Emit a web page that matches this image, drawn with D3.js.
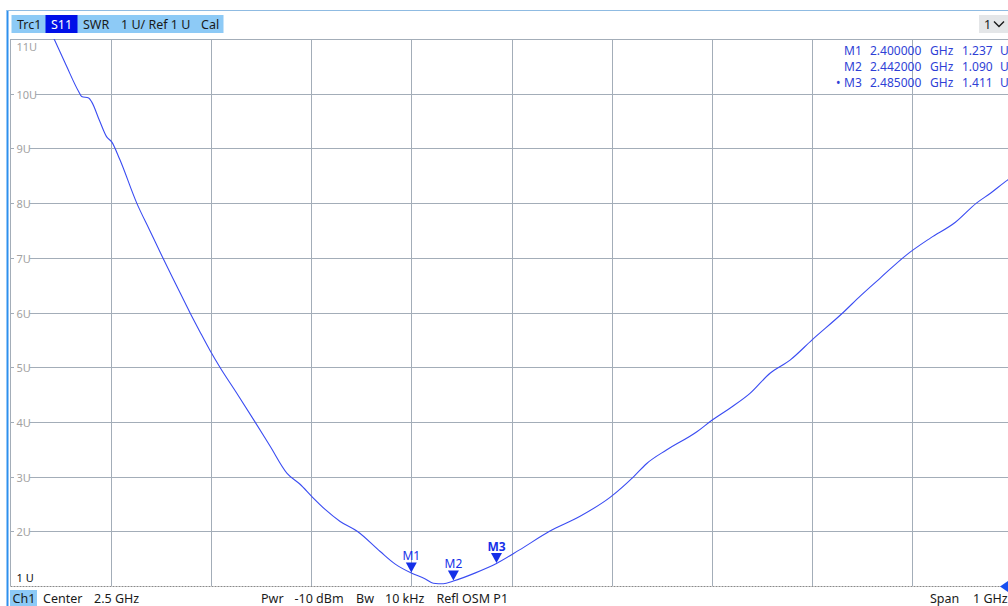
<!DOCTYPE html>
<html>
<head>
<meta charset="utf-8">
<script src="https://cdn.jsdelivr.net/npm/d3@7"></script>
<style>
  html, body { margin: 0; padding: 0; background: #ffffff; }
  svg { display: block; font-family: "Noto Sans", "Open Sans", sans-serif; }
</style>
</head>
<body>
<svg id="chart" width="1008" height="606"></svg>
<script>
// S11 SWR trace, 2.0 - 3.0 GHz
const freqGHz = [
  2.000, 2.020, 2.044, 2.056, 2.068, 2.071, 2.078, 2.081, 2.089, 2.096,
  2.101, 2.109, 2.126, 2.139, 2.152, 2.166, 2.179, 2.189, 2.199, 2.209,
  2.226, 2.244, 2.259, 2.276, 2.289, 2.301, 2.314, 2.329, 2.346, 2.369,
  2.384, 2.400, 2.414, 2.422, 2.432, 2.442, 2.464, 2.485, 2.508, 2.538,
  2.568, 2.599, 2.622, 2.635, 2.655, 2.685, 2.700, 2.718, 2.738, 2.758,
  2.778, 2.800, 2.831, 2.848, 2.868, 2.894, 2.918, 2.943, 2.964, 2.978,
  2.995, 3.000
];
const swr = [
  12.80, 12.00, 10.98, 10.50, 10.04, 9.95, 9.92, 9.85, 9.50, 9.21,
  9.12, 8.80, 8.00, 7.50, 7.00, 6.48, 6.00, 5.65, 5.31, 5.00,
  4.52, 4.00, 3.56, 3.06, 2.86, 2.63, 2.40, 2.18, 2.00, 1.63,
  1.40, 1.237, 1.13, 1.05, 1.04, 1.090, 1.24, 1.411, 1.66, 2.00,
  2.27, 2.63, 3.00, 3.24, 3.49, 3.82, 4.03, 4.25, 4.52, 4.89,
  5.13, 5.50, 6.00, 6.30, 6.63, 7.05, 7.36, 7.65, 8.00, 8.18,
  8.42, 8.48
];

// markers
const markerNames = ["M1", "M2", "M3"];
const markerFreqs = [2.400, 2.442, 2.485];
const markerValues = [1.237, 1.090, 1.411];
const markerFreqText = ["2.400000", "2.442000", "2.485000"];
const markerValueText = ["1.237", "1.090", "1.411"];

// axes
const xGridValues = [2.1, 2.2, 2.3, 2.4, 2.5, 2.6, 2.7, 2.8, 2.9];
const yGridValues = [2, 3, 4, 5, 6, 7, 8, 9, 10];
const yTickLabels = ["2U", "3U", "4U", "5U", "6U", "7U", "8U", "9U", "10U"];
const yTopLabel = "11U";
const yRefLabel = "1 U";

// header / footer text
const headerItems = ["Trc1", "S11", "SWR", "1 U/ Ref 1 U", "Cal"];
const footerLeft = ["Ch1", "Center", "2.5 GHz"];
const footerMid = ["Pwr", "-10 dBm", "Bw", "10 kHz", "Refl OSM P1"];
const footerRight = ["Span", "1 GHz"];

const svg = d3.select("#chart");
const plotLeft = 10.5, plotRight = 1012.5, plotTop = 39, plotBottom = 586;

const x = d3.scaleLinear().domain([2.0, 3.0]).range([plotLeft, plotRight]);
const y = d3.scaleLinear().domain([1, 11]).range([plotBottom, plotTop]);

const gridColor = "#a3adb8";
const traceColor = "#3a4cf2";
const markerColor = "#1530e8";
const readoutColor = "#2f3fd6";

// outer frame: blue left edge and top rule
svg.append("line").attr("x1", 7.5).attr("x2", 7.5).attr("y1", 10).attr("y2", 606)
  .attr("stroke", "#2e90ee").attr("stroke-width", 2);
svg.append("line").attr("x1", 7).attr("x2", 1008).attr("y1", 10.5).attr("y2", 10.5)
  .attr("stroke", "#8fbbe2").attr("stroke-width", 1);

// header bar
const header = svg.append("g");
header.append("rect").attr("x", 11.5).attr("y", 15).attr("width", 212).attr("height", 18)
  .attr("fill", "#8dcaf6");
header.append("rect").attr("x", 45.5).attr("y", 15).attr("width", 32).attr("height", 18)
  .attr("fill", "#0010e8");
const headerX = [17, 51, 83, 121, 201];
header.selectAll("text").data(headerItems).join("text")
  .attr("x", (d, i) => headerX[i]).attr("y", 29)
  .attr("font-size", 12.5)
  .attr("fill", (d, i) => i === 1 ? "#ffffff" : "#1a1a1a")
  .text(d => d);

// channel selector box
svg.append("rect").attr("x", 979).attr("y", 15).attr("width", 29).attr("height", 18).attr("fill", "#e4e6e8");
svg.append("text").attr("x", 984).attr("y", 29).attr("font-size", 12.5).attr("fill", "#1a1a1a").text("1");
svg.append("path").attr("d", "M994,21.5 L999,26.5 L1004,21.5").attr("fill", "none")
  .attr("stroke", "#1a1a1a").attr("stroke-width", 1.4);

// plot background and border
svg.append("rect").attr("x", plotLeft).attr("y", plotTop).attr("width", plotRight - plotLeft)
  .attr("height", plotBottom - plotTop).attr("fill", "#ffffff");
svg.append("line").attr("x1", plotLeft).attr("x2", 1008).attr("y1", plotTop + 0.5).attr("y2", plotTop + 0.5)
  .attr("stroke", gridColor);
svg.append("line").attr("x1", plotLeft).attr("x2", plotLeft).attr("y1", plotTop).attr("y2", plotBottom)
  .attr("stroke", gridColor);

// grid
const grid = svg.append("g");
grid.selectAll("line.v").data(xGridValues).join("line").attr("class", "v")
  .attr("x1", d => Math.round(x(d)) + 0.5).attr("x2", d => Math.round(x(d)) + 0.5)
  .attr("y1", plotTop).attr("y2", plotBottom)
  .attr("stroke", gridColor).attr("stroke-width", 1);
grid.selectAll("line.h").data(yGridValues).join("line").attr("class", "h")
  .attr("x1", plotLeft).attr("x2", plotRight)
  .attr("y1", d => Math.round(y(d)) + 0.5).attr("y2", d => Math.round(y(d)) + 0.5)
  .attr("stroke", gridColor).attr("stroke-width", 1);

// reference line (1 U)
svg.append("line").attr("x1", plotLeft).attr("x2", 1008).attr("y1", plotBottom + 0.5).attr("y2", plotBottom + 0.5)
  .attr("stroke", "#8a8a8a").attr("stroke-width", 1.2).attr("stroke-dasharray", "2,1");

// y labels with white backing over the grid
const yLab = svg.append("g").attr("font-size", 11).attr("fill", "#a2a2a2");
yGridValues.forEach((v, i) => {
  const yy = Math.round(y(v)) + 0.5;
  yLab.append("rect").attr("x", 14).attr("y", yy - 6).attr("width", 15.5 + (yTickLabels[i].length - 2) * 6)
    .attr("height", 12).attr("fill", "#ffffff");
  yLab.append("text").attr("x", 16.5).attr("y", yy + 4).text(yTickLabels[i]);
});
yLab.append("text").attr("x", 16.5).attr("y", plotTop + 11.5).text(yTopLabel);
svg.append("text").attr("x", 16.5).attr("y", 582).attr("font-size", 11).attr("fill", "#111111").text(yRefLabel);

// trace
svg.append("clipPath").attr("id", "plotClip").append("rect")
  .attr("x", plotLeft).attr("y", plotTop).attr("width", plotRight - plotLeft).attr("height", plotBottom - plotTop + 1);
const line = d3.line().curve(d3.curveMonotoneX).x(d => x(d[0])).y(d => y(d[1]));
svg.append("path")
  .datum(freqGHz.map((f, i) => [f, swr[i]]))
  .attr("clip-path", "url(#plotClip)")
  .attr("fill", "none").attr("stroke", traceColor).attr("stroke-width", 1.1)
  .attr("d", line);

// marker triangles and labels
const mk = svg.append("g");
markerNames.forEach((name, i) => {
  const mx = x(markerFreqs[i]), my = y(markerValues[i]);
  mk.append("path")
    .attr("d", `M${mx - 5.5},${my - 10.5} L${mx + 5.5},${my - 10.5} L${mx},${my - 0.5} Z`)
    .attr("fill", markerColor);
  mk.append("text").attr("x", mx).attr("y", my - 13).attr("text-anchor", "middle")
    .attr("font-size", 12).attr("font-weight", i === 2 ? "bold" : "normal")
    .attr("fill", markerColor).text(name);
});

// marker readout table
const ro = svg.append("g").attr("font-size", 12).attr("fill", readoutColor);
markerNames.forEach((name, i) => {
  const yy = 55 + i * 16;
  if (i === 2) ro.append("text").attr("x", 836).attr("y", yy).text("•");
  ro.append("text").attr("x", 844).attr("y", yy).text(name);
  ro.append("text").attr("x", 870).attr("y", yy).text(markerFreqText[i]);
  ro.append("text").attr("x", 930).attr("y", yy).text("GHz");
  ro.append("text").attr("x", 962).attr("y", yy).text(markerValueText[i]);
  ro.append("text").attr("x", 1000).attr("y", yy).text("U");
});

// reference level arrow at right edge
svg.append("path").attr("d", `M1000,${plotBottom + 0.5} L1008,${plotBottom - 5} L1008,${plotBottom + 6} Z`)
  .attr("fill", "#1a50f0");

// footer status bar
svg.append("rect").attr("x", 10).attr("y", 590).attr("width", 27).attr("height", 16).attr("fill", "#8dcaf6");
const foot = svg.append("g").attr("font-size", 12.5).attr("fill", "#1a1a1a");
const footLeftX = [12.5, 43, 94];
footerLeft.forEach((t, i) => foot.append("text").attr("x", footLeftX[i]).attr("y", 603).text(t));
const footMidX = [261, 294.5, 356, 385, 436.5];
footerMid.forEach((t, i) => foot.append("text").attr("x", footMidX[i]).attr("y", 603).text(t));
const footRightX = [930, 973];
footerRight.forEach((t, i) => foot.append("text").attr("x", footRightX[i]).attr("y", 603).text(t));
</script>
</body>
</html>
